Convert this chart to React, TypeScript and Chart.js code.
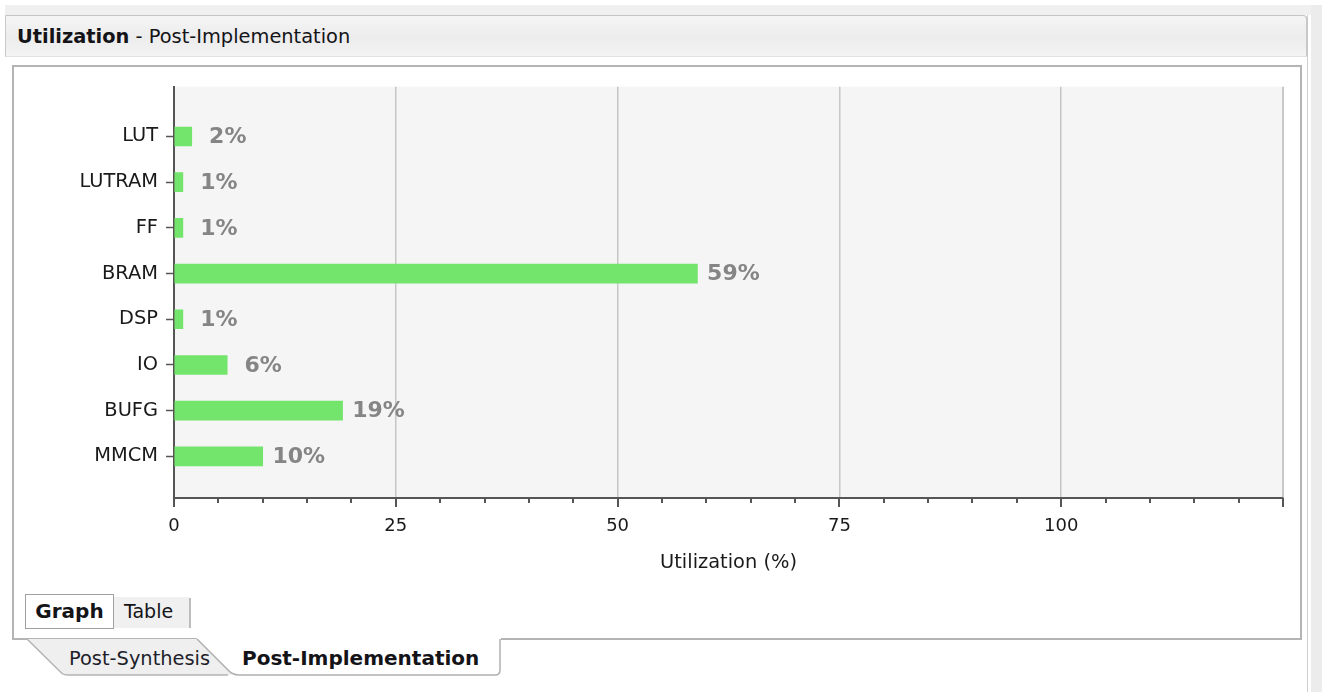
import { useEffect, useRef } from 'react';
import { Chart, registerables } from 'chart.js';

Chart.register(...registerables);

const categories = ['LUT', 'LUTRAM', 'FF', 'BRAM', 'DSP', 'IO', 'BUFG', 'MMCM'];
const utilization = [2, 1, 1, 59, 1, 6, 19, 10];
const xTickLabels = [0, 25, 50, 75, 100];
const xMax = 125;

const FONT = "'DejaVu Sans', sans-serif";

const chromePlugin = {
  id: 'chrome',
  beforeDraw(chart: any) {
    const { ctx, chartArea } = chart;
    ctx.save();
    ctx.fillStyle = '#f5f5f5';
    ctx.fillRect(chartArea.left, chartArea.top, chartArea.right - chartArea.left, chartArea.bottom - chartArea.top);
    ctx.restore();
  },
  afterDraw(chart: any) {
    const { ctx, chartArea } = chart;
    const xs = chart.scales.x;
    ctx.save();
    ctx.strokeStyle = '#555555';
    ctx.lineWidth = 2;
    xs.ticks.forEach((t: any) => {
      const px = Math.round(xs.getPixelForValue(t.value));
      const len = t.value % 25 === 0 ? 9 : 5;
      ctx.beginPath();
      ctx.moveTo(px, chartArea.bottom);
      ctx.lineTo(px, chartArea.bottom + len);
      ctx.stroke();
    });
    ctx.restore();
  },
  afterDatasetsDraw(chart: any) {
    const { ctx } = chart;
    const meta = chart.getDatasetMeta(0);
    ctx.save();
    ctx.font = `bold 22px ${FONT}`;
    ctx.fillStyle = '#858585';
    ctx.textAlign = 'center';
    ctx.textBaseline = 'middle';
    meta.data.forEach((el: any, i: number) => {
      ctx.fillText(`${utilization[i]}%`, el.x + 36, el.y + 1);
    });
    ctx.restore();
  },
};

export default function App() {
  const ref = useRef<HTMLCanvasElement>(null);

  useEffect(() => {
    if (!ref.current) return;
    const chart = new Chart(ref.current, {
      type: 'bar',
      data: {
        datasets: [
          {
            data: utilization.map((v, i) => ({ x: v, y: i })) as any,
            backgroundColor: '#73e46c',
            borderWidth: 0,
            barThickness: 19,
          },
        ],
      },
      options: {
        animation: false,
        responsive: false,
        indexAxis: 'y',
        layout: { padding: { top: 18, right: 16, left: 0, bottom: 0 } },
        plugins: { legend: { display: false }, tooltip: { enabled: false }, title: { display: false } },
        scales: {
          x: {
            type: 'linear',
            position: 'bottom',
            min: 0,
            max: xMax,
            offset: false,
            border: { display: true, color: '#555555', width: 2 },
            grid: {
              offset: false,
              drawOnChartArea: true,
              drawTicks: true,
              tickLength: 9,
              tickColor: 'rgba(0,0,0,0)',
              color: (c: any) => {
                const v = c.tick ? c.tick.value : -1;
                if (v === xMax) return '#c8c8c8';
                return v > 0 && v % 25 === 0 ? '#c6c6c6' : 'rgba(0,0,0,0)';
              },
              lineWidth: (c: any) => (c.tick && c.tick.value === xMax ? 2 : 1.5),
            },
            ticks: {
              stepSize: 5,
              autoSkip: false,
              maxRotation: 0,
              padding: 9,
              color: '#1a1a1a',
              font: { family: FONT, size: 18 },
              callback: (v: any) => (xTickLabels.includes(Number(v)) ? String(v) : ''),
            },
            title: {
              display: true,
              text: 'Utilization (%)',
              color: '#1a1a1a',
              font: { family: FONT, size: 19.4 },
              padding: { top: 4, bottom: 61 },
            },
            afterFit: (s: any) => {
              s.height = 138;
            },
          },
          y: {
            type: 'linear',
            reverse: true,
            min: -1.09,
            max: 7.91,
            offset: false,
            z: 1,
            border: { display: true, color: '#555555', width: 2 },
            grid: {
              offset: false,
              drawOnChartArea: false,
              drawTicks: true,
              tickLength: 8,
              tickColor: '#555555',
              tickWidth: 1.5,
            },
            afterBuildTicks: (s: any) => {
              s.ticks = categories.map((_, i) => ({ value: i }));
            },
            ticks: {
              autoSkip: false,
              padding: 8,
              color: '#1a1a1a',
              font: { family: FONT, size: 19.4 },
              callback: (v: any) => categories[Number(v)] ?? '',
            },
            afterFit: (s: any) => {
              s.width = 160;
            },
          },
        },
      },
      plugins: [chromePlugin],
    });
    return () => chart.destroy();
  }, []);

  const abs = (o: any) => ({ position: 'absolute' as const, ...o });

  return (
    <div style={abs({ left: 0, top: 0, width: 1322, height: 692, background: '#ffffff', overflow: 'hidden', fontFamily: FONT, color: '#1a1a1a' })}>
      <div style={abs({ left: 5, top: 5, width: 1317, height: 10, background: '#f0f0f0' })} />
      <div style={abs({ left: 1307, top: 15, width: 1, height: 677, background: '#d0d0d0' })} />
      <div style={abs({ left: 1311, top: 5, width: 11, height: 687, background: '#ececec' })} />
      <div
        style={abs({
          left: 5,
          top: 15,
          width: 1303,
          height: 42,
          boxSizing: 'border-box',
          borderTop: '1px solid #c4c4c4',
          borderLeft: '1px solid #c8c8c8',
          borderRight: '2px solid #c8c8c8',
          borderBottom: '1px solid #e2e2e2',
          borderTopRightRadius: 5,
          background: 'linear-gradient(to bottom, #f5f5f5 0%, #ececec 55%, #f4f4f4 100%)',
          display: 'flex',
          alignItems: 'center',
          paddingLeft: 11,
          fontSize: 19.4,
          whiteSpace: 'nowrap',
          color: '#141418',
        })}
      >
        <span style={{ fontWeight: 'bold' }}>Utilization</span>
        <span>&nbsp;- Post-Implementation</span>
      </div>
      <div style={abs({ left: 12, top: 65, width: 1290, height: 575, boxSizing: 'border-box', border: '2px solid #b4b4b4' })} />
      <canvas ref={ref} width={1285} height={569} style={abs({ left: 14, top: 67, width: 1285, height: 569 })} />

      <div
        style={abs({
          left: 25,
          top: 594,
          width: 89,
          height: 35,
          boxSizing: 'border-box',
          border: '1px solid #a0a0a0',
          background: '#ffffff',
          fontWeight: 'bold',
          fontSize: 20,
          lineHeight: '33px',
          textAlign: 'center',
          color: '#141418',
        })}
      >
        Graph
      </div>
      <div
        style={abs({
          left: 114,
          top: 597,
          width: 75,
          height: 31,
          background: '#f0f0f0',
          fontSize: 19,
          lineHeight: '29px',
          paddingLeft: 10,
          boxSizing: 'border-box',
          color: '#141418',
        })}
      >
        Table
      </div>
      <div style={abs({ left: 189, top: 598, width: 2, height: 30, background: '#bcbcbc' })} />

      <svg width={520} height={56} style={abs({ left: 0, top: 636 })}>
        <path d="M27 3 L62 37.5 Q64 39 68 39 L232 39 L232 3 Z" fill="#efefef" />
        <path d="M27 3 L62 37.5 Q64 39 68 39 L228 39" fill="none" stroke="#b4b4b4" strokeWidth={1.5} />
        <path d="M196 0 L501 0 L501 34 Q501 39 495 39 L239 39 Q232 39 227 33 L197 3 Z" fill="#ffffff" />
        <path d="M197 3 L227 33 Q232 39 239 39 L495 39 Q500 39 500 34 L500 3" fill="none" stroke="#b0b0b0" strokeWidth={1.5} />
      </svg>
      <div style={abs({ left: 69, top: 646, height: 26, lineHeight: '26px', fontSize: 19.4, whiteSpace: 'nowrap', color: '#1e1e2a' })}>
        Post-Synthesis
      </div>
      <div style={abs({ left: 242, top: 645, height: 26, lineHeight: '26px', fontSize: 20, fontWeight: 'bold', whiteSpace: 'nowrap', color: '#141418' })}>
        Post-Implementation
      </div>
    </div>
  );
}
